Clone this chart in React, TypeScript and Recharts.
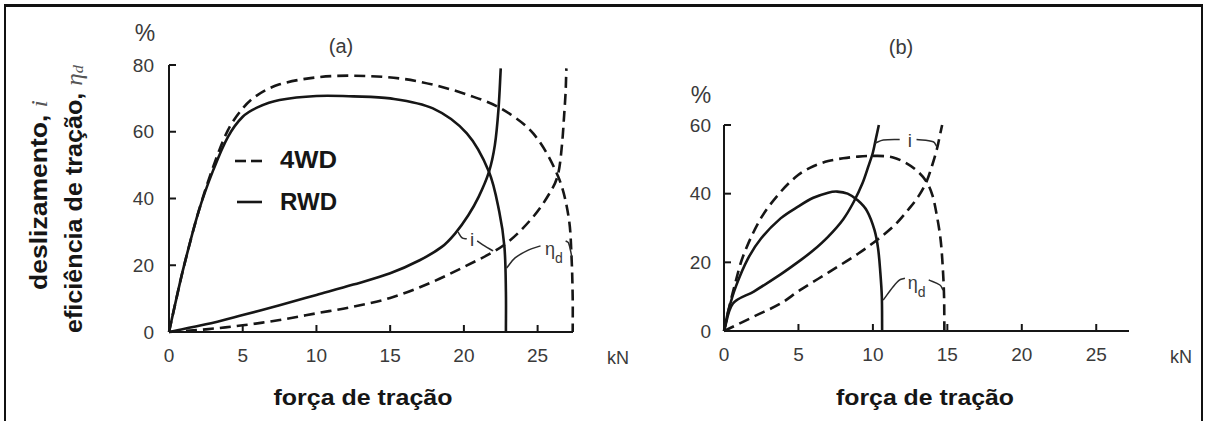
import React from 'react';
import { LineChart, Line, XAxis, YAxis, ReferenceDot, Legend } from 'recharts';

// ---------- data (x = traction force kN, y = %) ----------
const xTicks = [0, 5, 10, 15, 20, 25];
const yTicksA = [0, 20, 40, 60, 80];
const yTicksB = [0, 20, 40, 60];

// panel (a)
const effA_RWD: number[][] = [[0,0],[0.5,10],[1,19.5],[2,36],[3,48.5],[4,58.5],[5,64.5],[6,67.3],[7.5,69.5],[10,70.7],[12.5,70.6],[15,70],[17.9,67],[20.2,59.5],[21.7,48],[22.4,36],[22.75,25.5],[22.85,12],[22.85,0]];
const effA_4WD: number[][] = [[0,0],[0.5,10],[1,19.5],[2,36],[3,49.5],[4,60.5],[5,67],[6,71],[7.5,74.2],[10,76.3],[12.5,76.8],[15.6,76],[18,74],[20.3,71],[22.5,67],[24.7,59.5],[26.4,46.5],[27.1,34.5],[27.3,22.5],[27.38,10],[27.38,0]];
const slipA_RWD: number[][] = [[0,0],[2.5,2.3],[5,5.1],[7.5,8],[10,11.1],[12.5,14.2],[15,17.6],[17,21.5],[18.5,25.5],[19.4,29.5],[20.3,35],[21,40.5],[21.7,48],[22.1,56],[22.35,67],[22.5,79]];
const slipA_4WD: number[][] = [[0,0],[2.5,0.8],[5,2],[7.5,3.6],[10,5.6],[12.5,7.6],[15,10.2],[17.5,14.3],[20,19.5],[22.7,26],[24.7,34.5],[26,43],[26.4,47.5],[26.65,56],[26.8,65],[26.9,72],[26.95,79]];
const markA_i1: number[][] = [[19.6,30],[19.88,28.2],[20.2,27.9]];
const markA_i2: number[][] = [[20.9,27.3],[21.4,25.8],[21.98,24.3]];
const markA_e1: number[][] = [[22.9,19.2],[23.47,22.2],[24.4,24.6],[25.2,25.8]];
const markA_e2: number[][] = [[26.9,27.3],[27.1,26.7],[27.32,22.5]];
const labelA_i = [20.56, 27.6];
const labelA_eta = [25.9, 23.7];

// panel (b)
const effB_RWD: number[][] = [[0,0],[0.3,6],[0.8,13],[1.6,21],[2.5,27],[3.8,32.8],[5,36.3],[6,38.8],[7,40.3],[7.6,40.6],[8.3,40],[9,38],[9.6,35],[10.1,29.5],[10.35,24],[10.5,17],[10.6,10],[10.62,0]];
const effB_4WD: number[][] = [[0,0],[0.3,6],[0.7,13],[1.3,22],[2.5,33],[3.8,40.5],[5,45.5],[6,48],[7,49.5],[8,50.3],[9,50.8],[10.3,51],[11.3,50.6],[12.2,49],[13,46.5],[13.6,43.5],[14,39.5],[14.3,33.5],[14.55,26.5],[14.7,18],[14.78,10],[14.8,0]];
const slipB_RWD: number[][] = [[0,0],[0.6,8],[2,11.5],[3.8,16.5],[5.1,20.5],[6,23.5],[7,27.5],[8,32.5],[8.7,37.5],[9.3,43],[9.7,48],[10,52],[10.2,56],[10.4,60]];
const slipB_4WD: number[][] = [[0,0],[2,4.2],[3.8,8],[5.1,11.9],[7,17],[9,22.5],[10.3,26.6],[11.5,31],[12.5,36],[13.1,39.5],[13.6,43.5],[14,48.5],[14.3,53],[14.5,57],[14.65,60]];
const markB_i1: number[][] = [[10.13,54.7],[10.7,55.6],[11.8,55.8]];
const markB_i2: number[][] = [[12.93,55.8],[14.05,55.1],[14.3,53.7]];
const markB_e1: number[][] = [[10.69,9.0],[11.36,12.9],[11.8,14.9],[12.15,15.35]];
const markB_e2: number[][] = [[13.75,14.9],[14.5,13.4],[14.72,11.9]];
const labelB_i = [12.48, 55.6];
const labelB_eta = [12.75, 12.8];

const toPts = (a: number[][]) => a.map(([x, y]) => ({ x, y }));

// ---------- smooth curve through points (chord-length tangents) ----------
const smoothCurve: any = (context: any) => {
  let pts: number[][] = [];
  return {
    areaStart() {},
    areaEnd() {},
    lineStart() { pts = []; },
    point(x: number, y: number) { pts.push([+x, +y]); },
    lineEnd() {
      const n = pts.length;
      if (!n) return;
      context.moveTo(pts[0][0], pts[0][1]);
      if (n === 1) return;
      const d = (a: number[], b: number[]) => Math.hypot(b[0] - a[0], b[1] - a[1]) || 1e-6;
      const tan = (i: number) => {
        const p = pts[i];
        const prev = i > 0 ? pts[i - 1] : p;
        const next = i < n - 1 ? pts[i + 1] : p;
        const l = (i > 0 ? d(prev, p) : 0) + (i < n - 1 ? d(p, next) : 0);
        return [(next[0] - prev[0]) / l, (next[1] - prev[1]) / l];
      };
      for (let i = 0; i < n - 1; i++) {
        const p1 = pts[i], p2 = pts[i + 1];
        const L = d(p1, p2) / 3;
        const t1 = tan(i), t2 = tan(i + 1);
        context.bezierCurveTo(p1[0] + t1[0] * L, p1[1] + t1[1] * L, p2[0] - t2[0] * L, p2[1] - t2[1] * L, p2[0], p2[1]);
      }
    },
  };
};

const INK = '#161616';
const GREY = '#3a3a3a';
const SANS = '"Liberation Sans", Arial, sans-serif';
const SERIF = '"Liberation Serif", "DejaVu Serif", serif';

const makeYTick = (gap: number) => (props: any) => {
  const { x, y, payload } = props;
  const v = payload.value;
  return (
    <g>
      {v !== 0 && <line x1={x} y1={y} x2={x + 7} y2={y} stroke={INK} strokeWidth={2} />}
      <text x={x - gap} y={y} textAnchor="end" dominantBaseline="central" fontSize={19} fill={GREY} fontFamily={SANS}>{v}</text>
    </g>
  );
};

const XTick = (props: any) => {
  const { x, y, payload } = props;
  const v = payload.value;
  return (
    <g>
      {v !== 0 && <line x1={x} y1={y} x2={x} y2={y - 7} stroke={INK} strokeWidth={2} />}
      <text x={x} y={y + 23} textAnchor="middle" dominantBaseline="central" fontSize={19} fill={GREY} fontFamily={SANS}>{v}</text>
    </g>
  );
};

const annot = (kind: 'i' | 'eta') => (props: any) => {
  const vb = props.viewBox || { x: 0, y: 0, width: 0, height: 0 };
  const cx = vb.x + vb.width / 2;
  const cy = vb.y + vb.height / 2;
  if (kind === 'i') {
    return <text x={cx} y={cy} textAnchor="middle" dominantBaseline="central" fontSize={19} fill={GREY} fontFamily={SANS}>i</text>;
  }
  return (
    <text x={cx - 6} y={cy - 4} textAnchor="start" dominantBaseline="central" fontSize={18} fill={GREY} fontFamily={SANS}>
      η<tspan fontSize={14} dx={0} dy={9}>d</tspan>
    </text>
  );
};

const mainLine = (key: string, data: number[][], dashed: boolean) => (
  <Line
    key={key}
    data={toPts(data)}
    dataKey="y"
    type={smoothCurve}
    stroke={INK}
    strokeWidth={2.6}
    strokeDasharray={dashed ? '11 6' : undefined}
    dot={false}
    activeDot={false}
    isAnimationActive={false}
    legendType="none"
  />
);

const markLine = (key: string, data: number[][]) => (
  <Line
    key={key}
    data={toPts(data)}
    dataKey="y"
    type={smoothCurve}
    stroke="#2a2a2a"
    strokeWidth={1.5}
    dot={false}
    activeDot={false}
    isAnimationActive={false}
    legendType="none"
  />
);

const LegendBox = () => (
  <svg width={120} height={80} style={{ overflow: 'visible' }}>
    <line x1={5} y1={21} x2={16} y2={21} stroke={INK} strokeWidth={2.6} />
    <line x1={21} y1={21} x2={32} y2={21} stroke={INK} strokeWidth={2.6} />
    <text x={50} y={20} dominantBaseline="central" fontSize={23} fontWeight="bold" fill={INK} fontFamily={SANS} textLength={57} lengthAdjust="spacingAndGlyphs">4WD</text>
    <line x1={7} y1={62} x2={32} y2={62} stroke={INK} strokeWidth={2.6} />
    <text x={50} y={62} dominantBaseline="central" fontSize={23} fontWeight="bold" fill={INK} fontFamily={SANS} textLength={57} lengthAdjust="spacingAndGlyphs">RWD</text>
  </svg>
);

export default function App() {
  return (
    <div style={{ position: 'fixed', left: 0, top: 0, width: 1210, height: 421, overflow: 'hidden', background: '#fff', fontFamily: SANS }}>
      {/* panel (a) */}
      <div style={{ position: 'absolute', left: 0, top: 0 }}>
        <LineChart width={1210} height={421} margin={{ top: 65, right: 637, bottom: 59, left: 109 }}>
          <XAxis type="number" dataKey="x" domain={[0, 27.4]} ticks={xTicks} interval={0} height={30}
            axisLine={{ stroke: INK, strokeWidth: 2 }} tickLine={false} tickSize={0} tickMargin={0} tick={XTick} />
          <YAxis type="number" domain={[0, 80]} ticks={yTicksA} interval={0} width={60}
            axisLine={{ stroke: INK, strokeWidth: 2 }} tickLine={false} tickSize={0} tickMargin={0} tick={makeYTick(15)} />
          {mainLine('a1', effA_4WD, true)}
          {mainLine('a2', effA_RWD, false)}
          {mainLine('a3', slipA_RWD, false)}
          {mainLine('a4', slipA_4WD, true)}
          {markLine('a5', markA_i1)}
          {markLine('a6', markA_i2)}
          {markLine('a7', markA_e1)}
          {markLine('a8', markA_e2)}
          <ReferenceDot x={labelA_i[0]} y={labelA_i[1]} r={0} fill="none" stroke="none" label={{ content: annot('i') }} />
          <ReferenceDot x={labelA_eta[0]} y={labelA_eta[1]} r={0} fill="none" stroke="none" label={{ content: annot('eta') }} />
          <Legend layout="vertical" align="center" verticalAlign="middle" content={() => <LegendBox />}
            wrapperStyle={{ position: 'absolute', left: 230, top: 140, width: 120, height: 80 }} />
        </LineChart>
      </div>

      {/* panel (b) */}
      <div style={{ position: 'absolute', left: 0, top: 0 }}>
        <LineChart width={1210} height={421} margin={{ top: 125, right: 81, bottom: 60, left: 664 }}>
          <XAxis type="number" dataKey="x" domain={[0, 27.2]} ticks={xTicks} interval={0} height={30}
            axisLine={{ stroke: INK, strokeWidth: 2 }} tickLine={false} tickSize={0} tickMargin={0} tick={XTick} />
          <YAxis type="number" domain={[0, 60]} ticks={yTicksB} interval={0} width={60}
            axisLine={{ stroke: INK, strokeWidth: 2 }} tickLine={false} tickSize={0} tickMargin={0} tick={makeYTick(13)} />
          {mainLine('b1', effB_4WD, true)}
          {mainLine('b2', effB_RWD, false)}
          {mainLine('b3', slipB_RWD, false)}
          {mainLine('b4', slipB_4WD, true)}
          {markLine('b5', markB_i1)}
          {markLine('b6', markB_i2)}
          {markLine('b7', markB_e1)}
          {markLine('b8', markB_e2)}
          <ReferenceDot x={labelB_i[0]} y={labelB_i[1]} r={0} fill="none" stroke="none" label={{ content: annot('i') }} />
          <ReferenceDot x={labelB_eta[0]} y={labelB_eta[1]} r={0} fill="none" stroke="none" label={{ content: annot('eta') }} />
        </LineChart>
      </div>

      {/* titles and units */}
      <svg width={1210} height={421} style={{ position: 'absolute', left: 0, top: 0, pointerEvents: 'none' }}>
        <text x={145} y={33} textAnchor="middle" dominantBaseline="central" fontSize={23} fill={GREY} fontFamily={SANS}>%</text>
        <text x={701} y={95} textAnchor="middle" dominantBaseline="central" fontSize={23} fill={GREY} fontFamily={SANS}>%</text>
        <text x={341} y={46} textAnchor="middle" dominantBaseline="central" fontSize={20} fill={GREY} fontFamily={SANS}>(a)</text>
        <text x={901} y={47} textAnchor="middle" dominantBaseline="central" fontSize={20} fill={GREY} fontFamily={SANS}>(b)</text>
        <text x={618} y={358} textAnchor="middle" dominantBaseline="central" fontSize={18} fill={GREY} fontFamily={SANS}>kN</text>
        <text x={1181} y={357} textAnchor="middle" dominantBaseline="central" fontSize={18} fill={GREY} fontFamily={SANS}>kN</text>
        <text x={363} y={397} textAnchor="middle" dominantBaseline="central" fontSize={22} fontWeight="bold" fill={INK} fontFamily={SANS} textLength={179} lengthAdjust="spacingAndGlyphs">força de tração</text>
        <text x={925} y={397} textAnchor="middle" dominantBaseline="central" fontSize={22} fontWeight="bold" fill={INK} fontFamily={SANS} textLength={178} lengthAdjust="spacingAndGlyphs">força de tração</text>
        <text x={38.5} y={195} transform="rotate(-90 38.5 195)" textAnchor="middle" dominantBaseline="central" fontSize={23} fontWeight="bold" fill={INK} fontFamily={SANS} textLength={190} lengthAdjust="spacingAndGlyphs">
          deslizamento, <tspan fontFamily={SERIF} fontStyle="italic" fontWeight="normal" fill="#555">i</tspan>
        </text>
        <text x={74} y={199} transform="rotate(-90 74 199)" textAnchor="middle" dominantBaseline="central" fontSize={23} fontWeight="bold" fill={INK} fontFamily={SANS} textLength={268} lengthAdjust="spacingAndGlyphs">
          eficiência de tração, <tspan fontFamily={SERIF} fontStyle="italic" fontWeight="normal" fill="#555">η</tspan><tspan fontFamily={SERIF} fontStyle="italic" fontWeight="normal" fill="#555" fontSize={15} dy={4}>d</tspan>
        </text>
      </svg>

      {/* outer frame */}
      <div style={{ position: 'absolute', left: 4, top: 4, width: 1199, height: 460, boxSizing: 'border-box', borderTop: '3px solid #111', borderLeft: '2px solid #111', borderRight: '2px solid #111', pointerEvents: 'none' }} />
    </div>
  );
}
